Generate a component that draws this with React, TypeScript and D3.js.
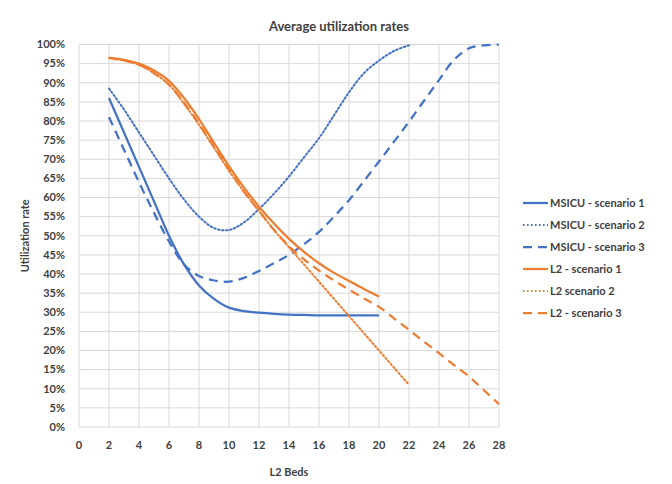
import React from "react";
import * as d3 from "d3";

const xTicks = [0, 2, 4, 6, 8, 10, 12, 14, 16, 18, 20, 22, 24, 26, 28];
const yTicks = [0, 5, 10, 15, 20, 25, 30, 35, 40, 45, 50, 55, 60, 65, 70, 75, 80, 85, 90, 95, 100];

const msicuS1X = [2, 3, 4, 5, 6, 7, 8, 9, 10, 11, 12, 13, 14, 15, 16, 17, 18, 19, 20];
const msicuS1 = [86, 77, 68, 59, 50, 42.5, 37, 33.5, 31.2, 30.3, 29.9, 29.6, 29.4, 29.3, 29.2, 29.2, 29.2, 29.2, 29.2];

const msicuS2X = [2, 3, 4, 5, 6, 7, 8, 9, 10, 11, 12, 13, 14, 15, 16, 17, 18, 19, 20, 21, 22];
const msicuS2 = [88.5, 83, 77, 71, 65, 59.5, 55, 52, 51.5, 53.5, 57, 61, 65.5, 70.5, 75.5, 81.5, 87.5, 92.5, 95.8, 98.3, 99.8];

const msicuS3X = [2, 3, 4, 5, 6, 7, 8, 9, 10, 11, 12, 13, 14, 15, 16, 17, 18, 19, 20, 21, 22, 23, 24, 25, 26, 27, 28];
const msicuS3 = [81, 72.5, 64, 56, 48.5, 42.5, 39.5, 38.3, 38, 39, 40.8, 42.8, 45, 47.8, 51, 55, 59.3, 64.3, 69.4, 74.6, 79.8, 85.3, 90.7, 96, 99, 99.8, 100];

const l2S1X = [2, 3, 4, 5, 6, 7, 8, 9, 10, 11, 12, 13, 14, 15, 16, 17, 18, 19, 20];
const l2S1 = [96.6, 96, 95, 93.2, 90.5, 86, 80.5, 74.3, 68.2, 62.6, 57.6, 53.2, 49.2, 45.8, 42.8, 40.3, 38.2, 36.1, 34.1];

const l2S2X = [2, 3, 4, 5, 6, 7, 8, 9, 10, 11, 12, 13, 14, 15, 16, 17, 18, 19, 20, 21, 22];
const l2S2 = [96.5, 95.8, 94.7, 92.5, 89.5, 84.5, 79, 73, 67, 61.5, 56.5, 51.5, 47, 42.5, 38, 33.5, 29, 24.5, 20, 15.5, 11];

const l2S3X = [2, 3, 4, 5, 6, 7, 8, 9, 10, 11, 12, 13, 14, 15, 16, 17, 18, 19, 20, 21, 22, 23, 24, 25, 26, 27, 28];
const l2S3 = [96.5, 95.8, 94.7, 92.5, 89.5, 84.8, 79.3, 73.3, 67.3, 61.5, 56.5, 51.5, 47.3, 43.8, 40.9, 38.3, 35.9, 33.6, 31.4, 28.4, 25.4, 22.3, 19.3, 16.2, 13.2, 9.6, 6];

const seriesNames = ["MSICU - scenario 1", "MSICU - scenario 2", "MSICU - scenario 3", "L2 - scenario 1", "L2 scenario 2", "L2 - scenario 3"];

const BLUE = "#4472C4";
const ORANGE = "#ED7D31";

export default function App() {
  const W = 672, H = 484;
  const left = 79, right = 499, top = 44.5, bottom = 427;
  const x = d3.scaleLinear().domain([0, 28]).range([left, right]);
  const y = d3.scaleLinear().domain([0, 100]).range([bottom, top]);

  const series = [
    { name: seriesNames[0], xs: msicuS1X, ys: msicuS1, color: BLUE, dash: "", w: 2.25 },
    { name: seriesNames[1], xs: msicuS2X, ys: msicuS2, color: BLUE, dash: "1.6 2.4", w: 2 },
    { name: seriesNames[2], xs: msicuS3X, ys: msicuS3, color: BLUE, dash: "9 6", w: 2.25 },
    { name: seriesNames[3], xs: l2S1X, ys: l2S1, color: ORANGE, dash: "", w: 2.25 },
    { name: seriesNames[4], xs: l2S2X, ys: l2S2, color: ORANGE, dash: "1.6 2.4", w: 2 },
    { name: seriesNames[5], xs: l2S3X, ys: l2S3, color: ORANGE, dash: "9 6", w: 2.25 },
  ];

  const line = d3
    .line<[number, number]>()
    .x((d) => x(d[0]))
    .y((d) => y(d[1]))
    .curve(d3.curveCatmullRom.alpha(0.5));

  const font = "Lato, 'Open Sans', sans-serif";
  const textColor = "#404040";

  return (
    <svg width={W} height={H} style={{ position: "absolute", left: 0, top: 0, background: "#fff" }} fontFamily={font}>
      <rect width={W} height={H} fill="#fff" />
      <text x={339} y={31} textAnchor="middle" fontSize={13} fontWeight="bold" fill={textColor}>
        Average utilization rates
      </text>
      {yTicks.map((t) => (
        <line key={"gy" + t} x1={left} x2={right} y1={y(t)} y2={y(t)} stroke="#D9D9D9" strokeWidth={1} />
      ))}
      {xTicks.map((t) => (
        <line key={"gx" + t} x1={x(t)} x2={x(t)} y1={top} y2={bottom} stroke="#D9D9D9" strokeWidth={1} />
      ))}
      {yTicks.map((t) => (
        <text key={"ty" + t} x={65} y={y(t)} dy="0.35em" textAnchor="end" fontSize={11} fontWeight="bold" fill={textColor}>
          {t + "%"}
        </text>
      ))}
      {xTicks.map((t) => (
        <text key={"tx" + t} x={x(t)} y={445} dy="0.35em" textAnchor="middle" fontSize={11} fontWeight="bold" fill={textColor}>
          {t}
        </text>
      ))}
      <text x={(left + right) / 2} y={472} dy="0.35em" textAnchor="middle" fontSize={11} fontWeight="bold" fill={textColor}>
        L2 Beds
      </text>
      <text
        transform={`translate(25, ${(top + bottom) / 2}) rotate(-90)`}
        textAnchor="middle"
        dy="0.35em"
        fontSize={11}
        fontWeight="bold"
        fill={textColor}
      >
        Utilization rate
      </text>
      {series.map((s) => (
        <path
          key={s.name}
          d={line(s.xs.map((v, i) => [v, s.ys[i]] as [number, number])) || ""}
          fill="none"
          stroke={s.color}
          strokeWidth={s.w}
          strokeDasharray={s.dash || undefined}
          strokeLinecap={s.dash.startsWith("1.6") ? "round" : "butt"}
        />
      ))}
      {series.map((s, i) => {
        const ly = 203 + i * 22;
        return (
          <g key={"lg" + s.name}>
            <line
              x1={523}
              x2={548}
              y1={ly}
              y2={ly}
              stroke={s.color}
              strokeWidth={s.w}
              strokeDasharray={s.dash || undefined}
            />
            <text x={550} y={ly} dy="0.35em" fontSize={11} fontWeight="bold" fill={textColor}>
              {s.name}
            </text>
          </g>
        );
      })}
    </svg>
  );
}
